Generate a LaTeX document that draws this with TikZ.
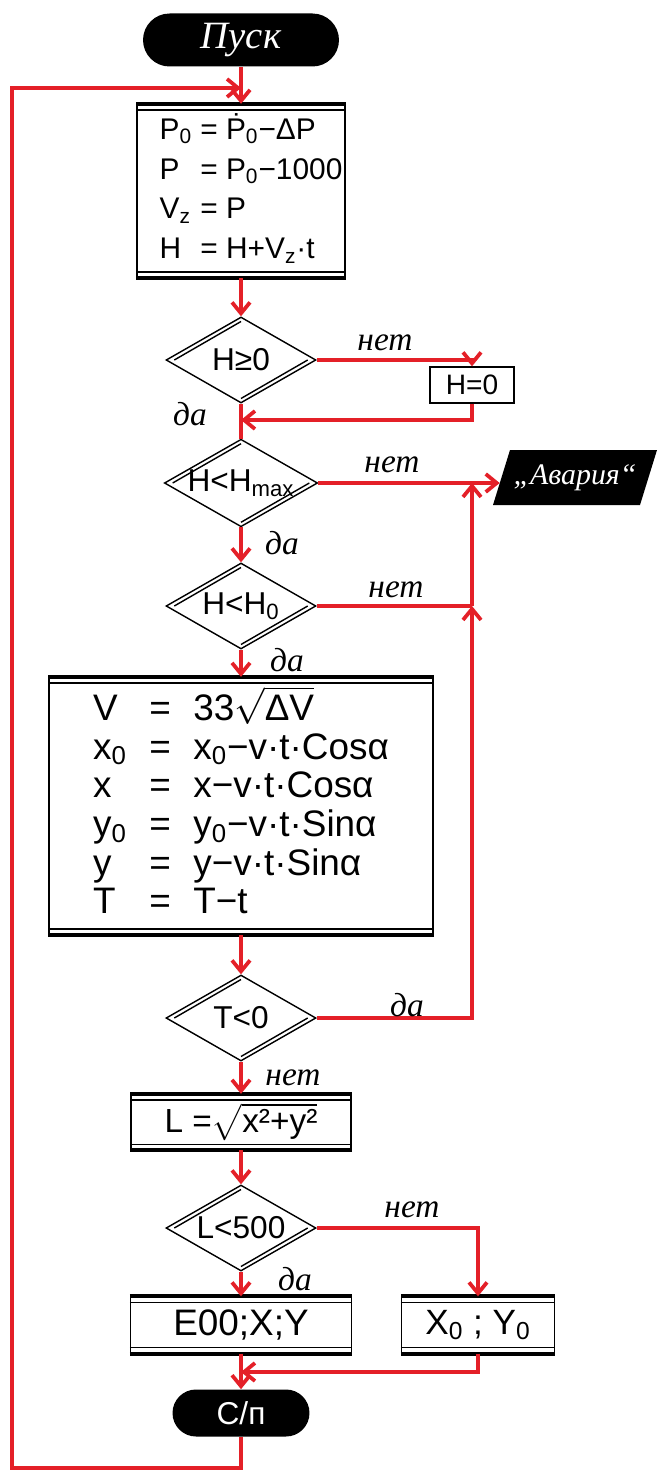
\documentclass[tikz,border=0pt]{standalone}
\usepackage{fontspec}
\setmainfont{Liberation Sans}
\newfontfamily\handfont{Liberation Serif}
\usepackage{amsmath}
\usetikzlibrary{shapes.geometric, shapes.misc, arrows.meta, positioning, calc}
\definecolor{flowred}{RGB}{228, 32, 40}

\begin{document}
\begin{tikzpicture}[x=0.02cm, y=-0.02cm,
  wire/.style={draw=flowred, line width=0.075cm},
  flow/.style={wire, -{Straight Barb[length=2.2mm, width=3.6mm]}},
  terminal/.style={rounded rectangle, fill=black, text=white, inner sep=0pt},
  opbox/.style={draw, line width=0.8pt, inner sep=0pt},
  decision/.style={diamond, draw, line width=0.8pt, aspect=1.75, minimum width=3cm, minimum height=1.72cm, inner sep=0pt, font=\fontsize{18}{20}\selectfont},
  answer/.style={font=\handfont\itshape\fontsize{19}{20}\selectfont}
]
  \fill[white] (0,0) rectangle (664,1476);
  \useasboundingbox (0,0) rectangle (664,1476);

  % main column
  \node[terminal, minimum width=3.92cm, minimum height=1.06cm, font=\handfont\itshape\fontsize{22}{24}\selectfont] (start) at (241,40) {Пуск};
  \node[opbox, minimum width=4.16cm, minimum height=3.46cm, font=\fontsize{17}{22.7}\selectfont] (update) at (241,191) {%
    \begin{tabular}{@{\hspace{0.4cm}}l@{ }l@{ }l@{}}
      P\textsubscript{0} & = & \.{P}\textsubscript{0}−ΔP\\
      P & = & P\textsubscript{0}−1000\\
      V\textsubscript{z} & = & P\\
      H & = & H+V\textsubscript{z}·t
    \end{tabular}};
  \node[decision] (hpos) at (241,360) {H≥0};
  \node[opbox, minimum width=1.68cm, minimum height=0.72cm, font=\fontsize{16}{18}\selectfont] (hzero) at (472,385) {H=0};
  \node[decision] (hmax) at (241,483) {H<H\textsubscript{max}};
  \node[decision] (hlow) at (241,606) {H<H\textsubscript{0}};
  \node[opbox, minimum width=7.68cm, minimum height=5.14cm, font=\fontsize{21}{22}\selectfont] (move) at (241,806) {%
    \begin{tabular}{@{}l@{\hspace{0.45cm}}c@{\hspace{0.45cm}}l@{}}
      V & = & 33$\sqrt{\hbox{ΔV}}$\\
      x\textsubscript{0} & = & x\textsubscript{0}−v·t·Cosα\\
      x & = & x−v·t·Cosα\\
      y\textsubscript{0} & = & y\textsubscript{0}−v·t·Sinα\\
      y & = & y−v·t·Sinα\\
      T & = & T−t
    \end{tabular}};
  \node[decision] (tneg) at (241,1018) {T<0};
  \node[opbox, minimum width=4.4cm, minimum height=1.1cm, font=\fontsize{19}{21}\selectfont] (dist) at (241,1122) {L =$\sqrt{\hbox{x²+y²}}$};
  \node[decision] (lnear) at (241,1228) {L<500};
  \node[opbox, minimum width=4.42cm, minimum height=1.12cm, font=\fontsize{21}{23}\selectfont] (hit) at (241,1325) {E00;X;Y};
  \node[opbox, minimum width=3.06cm, minimum height=1.12cm, font=\fontsize{20}{22}\selectfont] (miss) at (478,1325) {X\textsubscript{0} ; Y\textsubscript{0}};
  \node[terminal, minimum width=2.74cm, minimum height=0.94cm, font=\fontsize{18}{20}\selectfont] (stop) at (241,1413) {С/п};

  % crash output
  \fill (493,505) -- (510,450) -- (657,450) -- (640,505) -- cycle;
  \node[minimum width=3cm, inner sep=0pt, text=white, font=\handfont\itshape\fontsize{17}{19}\selectfont] (crash) at (575,478) {„Авария“};

  % double rules on boxes and diamonds
  \foreach \b in {update, move, dist, hit, miss} {
    \draw[line width=2.2pt] (\b.north west) -- (\b.north east);
    \draw[line width=2.2pt] (\b.south west) -- (\b.south east);
    \draw[line width=0.8pt] ($(\b.north west)+(0,6)$) -- ($(\b.north east)+(0,6)$);
    \draw[line width=0.8pt] ($(\b.south west)+(0,-6)$) -- ($(\b.south east)+(0,-6)$);
  }
  \foreach \d in {hpos, hmax, hlow, tneg, lnear} {
    \draw[line width=0.8pt] ($(\d.west)+(9,0)$) -- ($(\d.north)+(0,5.2)$);
    \draw[line width=0.8pt] ($(\d.east)+(-9,0)$) -- ($(\d.south)+(0,-5.2)$);
  }

  % connectors
  \coordinate (loop) at (241,88);
  \coordinate (lowleft) at (12,1468);
  \coordinate (back1) at (241,420);
  \coordinate (back2) at (241,1372);
  \coordinate (rtop) at (472,483);
  \draw[flow] (start.south) -- (update.north);
  \draw[flow] (update.south) -- (hpos.north);
  \draw[flow] (hpos.east) -| (hzero.north);
  \draw[flow] (hzero.south) |- (back1);
  \draw[wire] (hpos.south) -- (hmax.north);
  \draw[flow] (hmax.east) -- (hmax.east -| crash.west);
  \draw[flow] (hmax.south) -- (hlow.north);
  \draw[wire] (hlow.east) -- (hlow.east -| rtop) coordinate (rmid);
  \draw[flow] (tneg.east) -| (rmid);
  \draw[flow] (rmid) -- (rtop);
  \draw[flow] (hlow.south) -- (move.north);
  \draw[flow] (move.south) -- (tneg.north);
  \draw[flow] (tneg.south) -- (dist.north);
  \draw[flow] (dist.south) -- (lnear.north);
  \draw[flow] (lnear.south) -- (hit.north);
  \draw[flow] (lnear.east) -| (miss.north);
  \draw[flow] (miss.south) |- (back2);
  \draw[flow] (hit.south) -- (stop.north);
  \draw[flow] (stop.south) |- (lowleft) |- (loop);

  % answers
  \node[answer] (no1) at (385,343) {нет};
  \node[answer] (yes1) at (190,414) {да};
  \node[answer] (no2) at (392,465) {нет};
  \node[answer] (yes2) at (282,543) {да};
  \node[answer] (no3) at (396,590) {нет};
  \node[answer] (yes3) at (287,660) {да};
  \node[answer, anchor=base] (yes4) at (407,1016) {да};
  \node[answer] (no4) at (293,1078) {нет};
  \node[answer] (no5) at (412,1210) {нет};
  \node[answer] (yes5) at (295,1279) {да};
\end{tikzpicture}
\end{document}
